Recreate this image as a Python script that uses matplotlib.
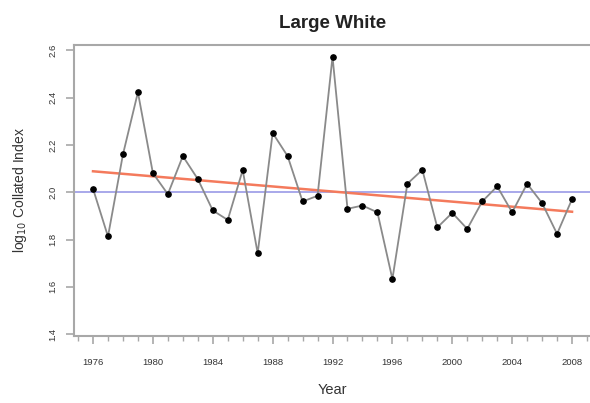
import numpy as np
import matplotlib
matplotlib.use("Agg")
import matplotlib.pyplot as plt
from matplotlib.ticker import MultipleLocator

plt.rcParams['font.family'] = ['Liberation Sans', 'DejaVu Sans']

years = list(range(1976, 2009))
log_index = [2.015, 1.813, 2.160, 2.423, 2.081, 1.992, 2.153, 2.056, 1.923, 1.883,
             2.094, 1.742, 2.251, 2.153, 1.961, 1.985, 2.573, 1.930, 1.944, 1.915,
             1.633, 2.036, 2.095, 1.851, 1.913, 1.845, 1.961, 2.025, 1.915, 2.036,
             1.954, 1.824, 1.971]
reference_level = 2.0
x_ticks = [1976, 1980, 1984, 1988, 1992, 1996, 2000, 2004, 2008]
y_ticks = [1.4, 1.6, 1.8, 2.0, 2.2, 2.4, 2.6]

fig = plt.figure(figsize=(5.9, 4.03), dpi=100)
ax = fig.add_axes([74/590, 1 - 336/403, 1 - 74/590, (336 - 45)/403])

yrs = np.array(years, dtype=float)
vals = np.array(log_index)

ax.axhline(reference_level, color='#9a9ae6', lw=1.2, zorder=1)

# least-squares trend over the whole period
slope, intercept = np.polyfit(yrs, vals, 1)
ax.plot([yrs[0], yrs[-1]], [intercept + slope * yrs[0], intercept + slope * yrs[-1]],
        color='#f47a5c', lw=1.8, zorder=2)

ax.plot(yrs, vals, color='#8a8a8a', lw=1.3, zorder=3)
ax.plot(yrs, vals, 'o', color='black', ms=3.8, zorder=4)

ax.set_xlim(1974.73, 2009.2)
ax.set_ylim(1.392, 2.623)

ax.set_xticks(x_ticks)
ax.set_xticklabels([str(t) for t in x_ticks])
ax.xaxis.set_minor_locator(MultipleLocator(1))
ax.set_yticks(y_ticks)
ax.set_yticklabels([f"{t:.1f}" for t in y_ticks], rotation=90, va='center')

for s in ['left', 'top', 'bottom']:
    ax.spines[s].set_color('#a8a8a8')
    ax.spines[s].set_linewidth(1.5)
ax.spines['right'].set_visible(False)

ax.tick_params(axis='both', which='major', length=6, width=1.2, color='#a8a8a8',
               labelsize=6.8, labelcolor='#333333')
ax.tick_params(axis='x', which='minor', length=3.5, width=1.0, color='#a8a8a8')
ax.tick_params(axis='x', pad=10)
ax.tick_params(axis='y', pad=6)

ax.set_xlabel('Year', fontsize=10.5, color='#333333', labelpad=11)
ax.set_ylabel(r'log$_{10}$ Collated Index', fontsize=10, color='#333333', labelpad=14)
fig.text(333/590, 1 - 23/403, 'Large White', ha='center', va='center',
         fontsize=13.5, fontweight='bold', color='#222222')

fig.savefig('out.png', dpi=100)
